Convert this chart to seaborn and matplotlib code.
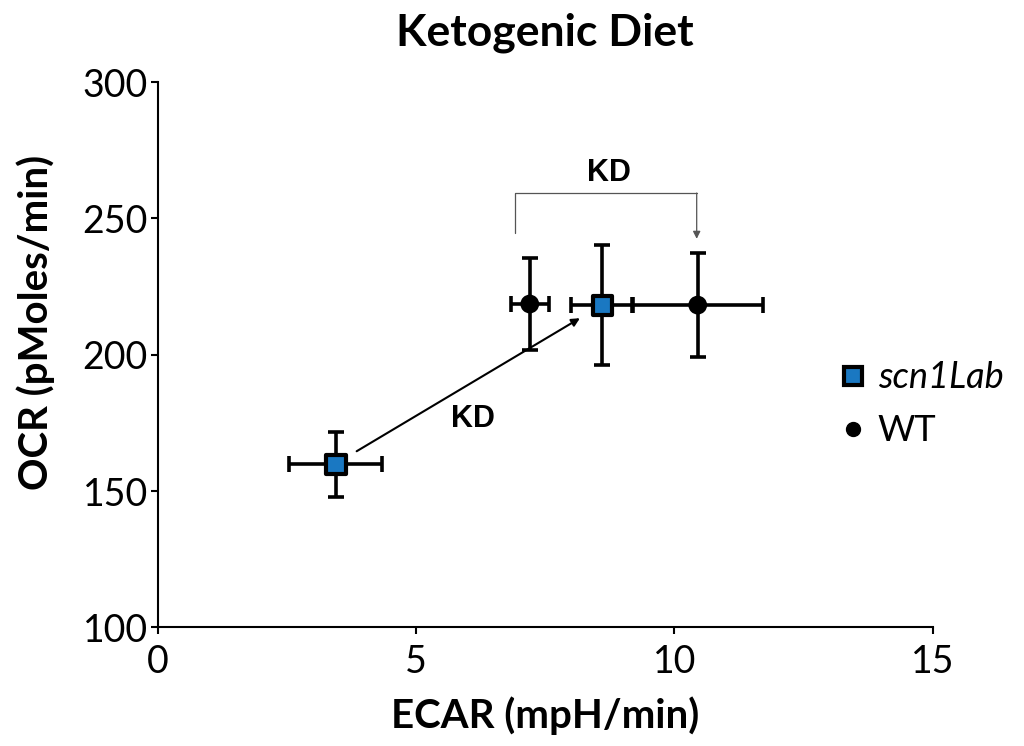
import pandas as pd
import matplotlib.pyplot as plt
import seaborn as sns

# Data
groups = ['scn1Lab', 'scn1Lab', 'WT', 'WT']
ecar = [3.45, 8.6, 7.2, 10.45]
ecar_err = [0.9, 0.6, 0.37, 1.27]
ocr = [159.8, 218.2, 218.6, 218.2]
ocr_err = [12.0, 22.0, 17.0, 19.0]

df = pd.DataFrame({'group': groups, 'ECAR': ecar, 'ECAR_err': ecar_err,
                   'OCR': ocr, 'OCR_err': ocr_err})

sns.set_style('ticks')
plt.rcParams['font.family'] = ['Lato', 'DejaVu Sans']
plt.rcParams['text.color'] = 'black'
plt.rcParams['axes.labelcolor'] = 'black'
plt.rcParams['xtick.color'] = 'black'
plt.rcParams['ytick.color'] = 'black'

fig = plt.figure(figsize=(10.24, 7.46), dpi=100)
ax = fig.add_axes([0.154, 0.159, 0.757, 0.731])

# Error bars
ax.errorbar(df['ECAR'], df['OCR'], xerr=df['ECAR_err'], yerr=df['OCR_err'],
            fmt='none', ecolor='black', elinewidth=2.6, capsize=6, capthick=2.6,
            zorder=2)

# Markers
sns.scatterplot(data=df, x='ECAR', y='OCR', hue='group', style='group',
                markers={'scn1Lab': 's', 'WT': 'o'},
                palette={'scn1Lab': '#1a78c2', 'WT': 'black'},
                size='group', sizes={'scn1Lab': 190, 'WT': 110},
                edgecolor='black', linewidth=3, legend=False, ax=ax, zorder=3)

# Annotations
ax.annotate('', xy=(8.17, 213.4), xytext=(3.85, 164.6),
            arrowprops=dict(arrowstyle='-|>', color='black', lw=1.5,
                            mutation_scale=12, shrinkA=0, shrinkB=0))
ax.text(6.1, 176.5, 'KD', fontsize=22, fontweight='bold', ha='center', va='center',
        family='Liberation Sans')
ax.plot([6.91, 6.91, 10.43], [244.6, 259.3, 259.3], color='#555555', lw=0.9)
ax.annotate('', xy=(10.43, 242.5), xytext=(10.43, 259.3),
            arrowprops=dict(arrowstyle='-|>', color='#555555', lw=0.9,
                            mutation_scale=11, shrinkA=0, shrinkB=0))
ax.text(8.74, 266.5, 'KD', fontsize=22, fontweight='bold', ha='center', va='center',
        family='Liberation Sans')

ax.set_xlim(0, 15)
ax.set_ylim(100, 300)
ax.set_xticks([0, 5, 10, 15])
ax.set_yticks([100, 150, 200, 250, 300])
ax.tick_params(labelsize=27, width=1.5, length=5, direction='out', pad=2)
ax.tick_params(axis='x', pad=7)
for s in ['left', 'bottom']:
    ax.spines[s].set_linewidth(1.5)
    ax.spines[s].set_color('black')
sns.despine(ax=ax)

ax.set_xlabel('ECAR (mpH/min)', fontsize=29, fontweight='bold', labelpad=12)
ax.set_ylabel('OCR (pMoles/min)', fontsize=29, fontweight='bold')
ax.yaxis.set_label_coords(-0.133, 0.56)
ax.set_title('Ketogenic Diet', fontsize=32, fontweight='bold', pad=26)

# Legend
handles = [
    plt.Line2D([], [], marker='s', ls='none', markersize=13, markerfacecolor='#1a78c2',
               markeredgecolor='black', markeredgewidth=3),
    plt.Line2D([], [], marker='o', ls='none', markersize=10, markerfacecolor='black',
               markeredgecolor='black'),
]
leg = fig.legend(handles, ['scn1Lab', 'WT'], loc='center left',
                 bbox_to_anchor=(0.815, 0.458), frameon=False, fontsize=26,
                 handletextpad=0.2, labelspacing=0.55, handlelength=1.0,
                 borderpad=0, borderaxespad=0)
leg.get_texts()[0].set_style('italic')

fig.savefig('out.png', dpi=100)
